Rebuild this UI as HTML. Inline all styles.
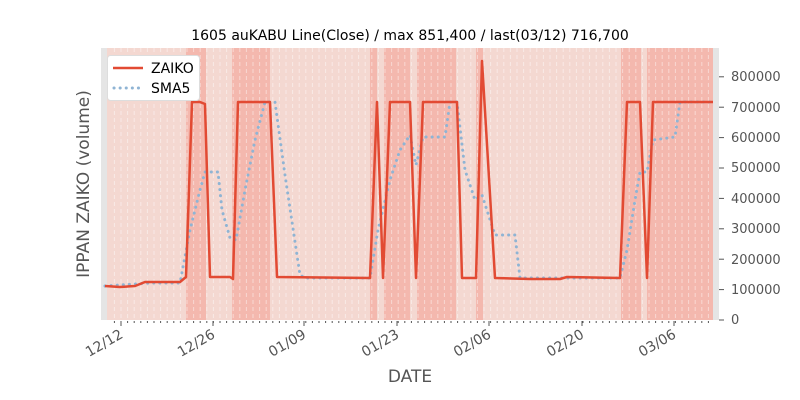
<!DOCTYPE html>
<html><head><meta charset="utf-8"><style>
body{margin:0;background:#fff;}
svg{display:block;font-family:"DejaVu Sans","Liberation Sans",sans-serif;}
</style></head><body>
<svg width="800" height="400" viewBox="0 0 800 400">
<rect x="101" y="48" width="618" height="272" fill="#e5e5e5"/>
<rect x="107" y="48" width="606" height="272" fill="#f4d8d1"/>
<g fill="#f4b8ae">
<rect x="186" y="48" width="20" height="272"/>
<rect x="232" y="48" width="38" height="272"/>
<rect x="370" y="48" width="7" height="272"/>
<rect x="384" y="48" width="26" height="272"/>
<rect x="417" y="48" width="39" height="272"/>
<rect x="476" y="48" width="7" height="272"/>
<rect x="621" y="48" width="20" height="272"/>
<rect x="647" y="48" width="66" height="272"/>
</g>
<g id="vl" stroke="#ffffff" stroke-opacity="0.45" stroke-width="1" stroke-dasharray="4,3"></g>
<g id="tk" stroke="#555" stroke-width="1"></g>
<polyline fill="none" stroke="#8fb4d4" stroke-width="3" stroke-dasharray="0.1,6" stroke-linecap="round" points="105,286 150,283 180,283 190,230 200,190 205,172 218,172 222,210 230,238 236,240 245,190 255,140 265,102 275,102 285,175 300,275 305,278 370,278 378,230 390,180 400,150 410,135 416,165 423,137 445,137 450,102 457,102 465,170 475,200 482,195 495,235 515,235 520,278 620,278 627,250 635,200 640,172 647,172 653,140 675,137 680,102 713,102"/>
<polyline fill="none" stroke="#e24a33" stroke-width="2.5" stroke-linejoin="round" points="105,286 120,287 135,286 145,282 180,282 186,277 192,102 200,102 205,104 210,277 230,277 233,279 238,102 270,102 277,277 370,278 377,102 383,278 390,102 410,102 416,278 423,102 457,102 462,278 476,278 482,61 495,278 530,279 560,279 567,277 620,278 627,102 640,102 647,278 653,102 713,102"/>
<g stroke="#555"><line x1="719" y1="76.8" x2="724" y2="76.8"/><line x1="719" y1="107.2" x2="724" y2="107.2"/><line x1="719" y1="137.6" x2="724" y2="137.6"/><line x1="719" y1="168" x2="724" y2="168"/><line x1="719" y1="198.4" x2="724" y2="198.4"/><line x1="719" y1="228.8" x2="724" y2="228.8"/><line x1="719" y1="259.2" x2="724" y2="259.2"/><line x1="719" y1="289.6" x2="724" y2="289.6"/><line x1="719" y1="320" x2="724" y2="320"/></g>
<g font-size="13" fill="#555">
<text x="731" y="81">800000</text><text x="731" y="112">700000</text><text x="731" y="142">600000</text><text x="731" y="172">500000</text><text x="731" y="203">400000</text><text x="731" y="233">300000</text><text x="731" y="264">200000</text><text x="731" y="294">100000</text><text x="731" y="324">0</text>
</g>
<g font-size="14" fill="#555" text-anchor="end">
<text transform="translate(124,337) rotate(-30)">12/12</text>
<text transform="translate(216,337) rotate(-30)">12/26</text>
<text transform="translate(307,337) rotate(-30)">01/09</text>
<text transform="translate(400,337) rotate(-30)">01/23</text>
<text transform="translate(492,337) rotate(-30)">02/06</text>
<text transform="translate(585,337) rotate(-30)">02/20</text>
<text transform="translate(677,337) rotate(-30)">03/06</text>
</g>
<text x="410" y="40" font-size="14" text-anchor="middle" fill="#000">1605 auKABU Line(Close) / max 851,400 / last(03/12) 716,700</text>
<text x="410" y="382" font-size="17" text-anchor="middle" fill="#555">DATE</text>
<text transform="translate(89,184) rotate(-90)" font-size="17" text-anchor="middle" fill="#555">IPPAN ZAIKO (volume)</text>
<rect x="107.5" y="55.5" width="92" height="45" rx="3" fill="#fff" stroke="#ddd"/>
<line x1="113" y1="68" x2="143" y2="68" stroke="#e24a33" stroke-width="2.5"/>
<line x1="114" y1="88" x2="143" y2="88" stroke="#8fb4d4" stroke-width="3" stroke-dasharray="0.1,6" stroke-linecap="round"/>
<text x="151" y="73" font-size="14" fill="#000">ZAIKO</text>
<text x="151" y="93" font-size="14" fill="#000">SMA5</text>
</svg>
<script>
var vl=document.getElementById('vl'),tk=document.getElementById('tk'),ns='http://www.w3.org/2000/svg';
for(var x=114.4;x<713;x+=6.6){var l=document.createElementNS(ns,'line');l.setAttribute('x1',x);l.setAttribute('x2',x);l.setAttribute('y1',48);l.setAttribute('y2',320);vl.appendChild(l);
var t=document.createElementNS(ns,'line');t.setAttribute('x1',x);t.setAttribute('x2',x);t.setAttribute('y1',321);t.setAttribute('y2',323);tk.appendChild(t);}
[121,213,304,397,489,582,674].forEach(function(x){var t=document.createElementNS(ns,'line');t.setAttribute('x1',x);t.setAttribute('x2',x);t.setAttribute('y1',321);t.setAttribute('y2',326);tk.appendChild(t);});
</script>
</body></html>
